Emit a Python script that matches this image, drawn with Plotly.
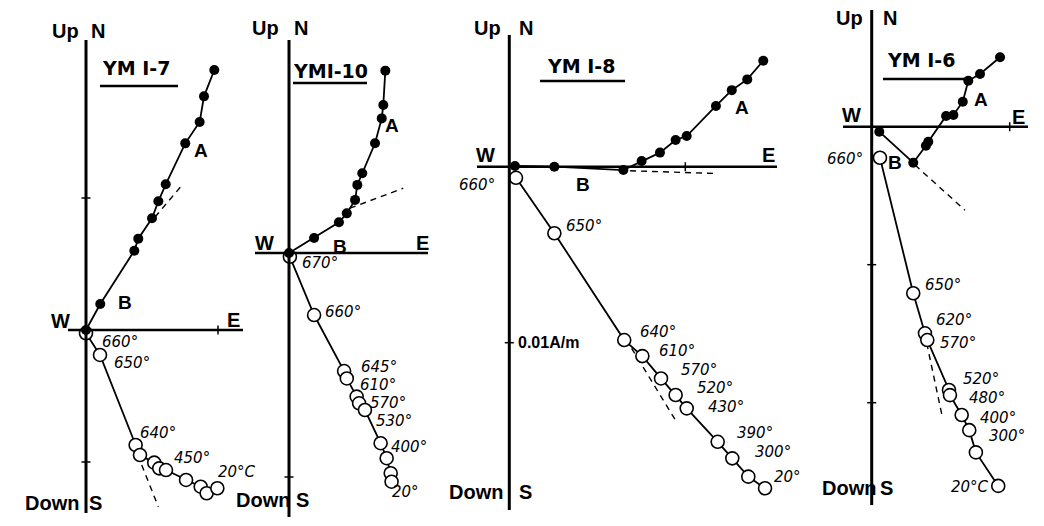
import plotly.graph_objects as go

W, H = 1044, 526

# ---------------- data (units = one tick interval of each diagram) ----------------
# YM1-7
ym17_fill_e = [0.0, 0.108, 0.366, 0.396, 0.500, 0.548, 0.604, 0.752, 0.861, 0.894, 0.972]
ym17_fill_n = [0.0, 0.197, 0.601, 0.692, 0.846, 0.975, 1.104, 1.414, 1.576, 1.770, 1.970]
ym17_open_e = [0.0, 0.106, 0.376, 0.409, 0.517, 0.555, 0.606, 0.758, 0.869, 0.914, 0.995]
ym17_open_down = [0.025, 0.189, 0.871, 0.947, 1.005, 1.048, 1.061, 1.136, 1.187, 1.237, 1.199]
ym17_fitA_e = [0.523, 0.735]
ym17_fitA_n = [0.856, 1.106]
ym17_fitB_e = [0.422, 0.548]
ym17_fitB_down = [1.023, 1.339]
ym17_temps = ["660°", "650°", "640°", "450°", "20°C"]
ym17_temp_idx = [0, 1, 2, 6, 10]

# YM1-10
ym110_fill_e = [0.0, 0.112, 0.223, 0.258, 0.295, 0.305, 0.327, 0.384, 0.414, 0.421, 0.430]
ym110_fill_n = [0.0, 0.067, 0.137, 0.177, 0.237, 0.304, 0.356, 0.490, 0.601, 0.661, 0.814]
ym110_open_e = [0.004, 0.112, 0.246, 0.258, 0.302, 0.313, 0.339, 0.409, 0.436, 0.454, 0.458]
ym110_open_down = [0.017, 0.277, 0.527, 0.560, 0.641, 0.671, 0.701, 0.849, 0.916, 0.983, 1.021]
ym110_fitA_e = [0.272, 0.510]
ym110_fitA_n = [0.200, 0.289]
ym110_temps = ["670°", "660°", "645°", "610°", "570°", "530°", "400°", "20°"]
ym110_temp_idx = [0, 1, 2, 4, 5, 6, 7, 10]

# YM1-8
ym18_fill_e = [0.032, 0.256, 0.648, 0.752, 0.856, 0.945, 1.008, 1.174, 1.264, 1.352, 1.443]
ym18_fill_n = [0.004, 0.0, -0.019, 0.032, 0.080, 0.152, 0.174, 0.345, 0.435, 0.496, 0.602]
ym18_open_e = [0.038, 0.256, 0.653, 0.756, 0.862, 0.945, 1.008, 1.184, 1.267, 1.358, 1.453]
ym18_open_down = [0.063, 0.378, 0.985, 1.076, 1.203, 1.297, 1.373, 1.563, 1.657, 1.761, 1.827]
ym18_fitA_e = [0.686, 1.159]
ym18_fitA_n = [-0.023, -0.038]
ym18_fitB_e = [0.695, 0.941]
ym18_fitB_down = [1.032, 1.435]
ym18_temps = ["660°", "650°", "640°", "610°", "570°", "520°", "430°", "390°", "300°", "20°"]
ym18_temp_idx = [0, 1, 2, 3, 4, 5, 6, 7, 8, 10]

# YM1-6
ym16_fill_e = [0.055, 0.301, 0.393, 0.410, 0.539, 0.592, 0.660, 0.700, 0.785, 0.930]
ym16_fill_n = [-0.036, -0.261, -0.138, -0.109, 0.078, 0.085, 0.181, 0.333, 0.382, 0.503]
ym16_open_e = [0.060, 0.301, 0.386, 0.403, 0.560, 0.567, 0.652, 0.707, 0.755, 0.917]
ym16_open_down = [0.225, 1.207, 1.497, 1.546, 1.908, 1.945, 2.089, 2.199, 2.360, 2.603]
ym16_fitA_e = [0.314, 0.676]
ym16_fitA_n = [-0.278, -0.605]
ym16_fitB_e = [0.399, 0.514]
ym16_fitB_down = [1.570, 2.113]
ym16_temps = ["660°", "650°", "620°", "570°", "520°", "480°", "400°", "300°", "20°C"]
ym16_temp_idx = [0, 1, 2, 3, 4, 5, 6, 7, 9]

# ---------------- layout of each diagram (pixels) ----------------
panels = [
    dict(title="YM I-7", ox=86, oy=330, s=132, west=68, east=243, top=40, bottom=513,
         xt=[1], yt=[1, -1],
         fe=ym17_fill_e, fn=ym17_fill_n, oe=ym17_open_e, od=ym17_open_down,
         fa=(ym17_fitA_e, ym17_fitA_n), fb=(ym17_fitB_e, ym17_fitB_down),
         temps=ym17_temps, tidx=ym17_temp_idx,
         toff=[(34, 9), (32, 8), (22, -12), (26, -12), (20, -16)],
         lab=dict(W=(60, 321), E=(233, 320), Up=(65, 31), N=(98, 31), Down=(52, 503), S=(95, 503),
                  A=(201, 151), B=(125, 302)),
         tpos=(136, 68), ul=(100, 178, 86)),
    dict(title="YMI-10", ox=289, oy=253, s=224, west=255, east=428, top=40, bottom=517,
         xt=[], yt=[-1],
         fe=ym110_fill_e, fn=ym110_fill_n, oe=ym110_open_e, od=ym110_open_down,
         fa=(ym110_fitA_e, ym110_fitA_n), fb=None,
         temps=ym110_temps, tidx=ym110_temp_idx,
         toff=[(30, 6), (29, -3), (35, -4), (21, -12), (29, 0), (29, 11), (28, 4), (14, 10)],
         lab=dict(W=(264, 243), E=(422, 243), Up=(265, 28), N=(301, 28), Down=(263, 500), S=(302, 500),
                  A=(392, 126), B=(340, 247)),
         tpos=(330, 71), ul=(293, 367, 83)),
    dict(title="YM I-8", ox=509.3, oy=166.7, s=176, west=477, east=777, top=35, bottom=510,
         xt=[1], yt=[-1],
         fe=ym18_fill_e, fn=ym18_fill_n, oe=ym18_open_e, od=ym18_open_down,
         fa=(ym18_fitA_e, ym18_fitA_n), fb=(ym18_fitB_e, ym18_fitB_down),
         temps=ym18_temps, tidx=ym18_temp_idx,
         toff=[(-39, 7), (30, -7), (34, -8), (35, -5), (38, -8), (39, -7), (39, -1), (37, -9), (41, -6), (22, -11)],
         lab=dict(W=(485, 155), E=(768, 155), Up=(487, 28), N=(526, 28), Down=(476, 492), S=(525, 492),
                  A=(742, 107), B=(583, 185)),
         tpos=(581, 66), ul=(540, 625, 81)),
    dict(title="YM I-6", ox=871.7, oy=126.7, s=138, west=843, east=1028, top=10, bottom=505,
         xt=[1], yt=[-1, -2],
         fe=ym16_fill_e, fn=ym16_fill_n, oe=ym16_open_e, od=ym16_open_down,
         fa=(ym16_fitA_e, ym16_fitA_n), fb=(ym16_fitB_e, ym16_fitB_down),
         temps=ym16_temps, tidx=ym16_temp_idx,
         toff=[(-35, 1), (30, -8), (29, -13), (31, 3), (32, -11), (37, 3), (36, 3), (38, 6), (-28, 1)],
         lab=dict(W=(851, 115), E=(1018, 117), Up=(849, 18), N=(890, 18), Down=(849, 488), S=(886, 488),
                  A=(981, 99), B=(895, 163)),
         tpos=(921, 60), ul=(883, 967, 79)),
]

fig = go.Figure()
shapes = []
annotations = []
LBL_FONT = dict(family="Liberation Sans, Arial, sans-serif", size=20, color="black")
TMP_FONT = dict(family="DejaVu Sans, sans-serif", size=15, color="black")

for i, p in enumerate(panels):
    k = "" if i == 0 else str(i + 1)
    xr, yr = "x" + k, "y" + k
    s, ox, oy = p["s"], p["ox"], p["oy"]
    xrange_ = [-ox / s, (W - ox) / s]
    yrange_ = [-(H - oy) / s, oy / s]
    xa = dict(range=xrange_, domain=[0, 1], visible=False, fixedrange=True, anchor=yr)
    ya = dict(range=yrange_, domain=[0, 1], visible=False, fixedrange=True, anchor=xr)
    if i > 0:
        xa["overlaying"] = "x"
        ya["overlaying"] = "y"
    fig.layout["xaxis" + k] = xa
    fig.layout["yaxis" + k] = ya

    # axes of the diagram
    west, east = (p["west"] - ox) / s, (p["east"] - ox) / s
    top, bottom = (oy - p["top"]) / s, (oy - p["bottom"]) / s
    shapes.append(dict(type="line", xref=xr, yref=yr, x0=west, x1=east, y0=0, y1=0,
                       line=dict(color="black", width=2.5)))
    shapes.append(dict(type="line", xref=xr, yref=yr, x0=0, x1=0, y0=bottom, y1=top,
                       line=dict(color="black", width=3)))
    t = 4.5 / s
    for xv in p["xt"]:
        shapes.append(dict(type="line", xref=xr, yref=yr, x0=xv, x1=xv, y0=-t, y1=t,
                           line=dict(color="black", width=1.5)))
    for yv in p["yt"]:
        shapes.append(dict(type="line", xref=xr, yref=yr, x0=-t, x1=t, y0=yv, y1=yv,
                           line=dict(color="black", width=1.5)))

    # fit (dashed) lines
    fa = p["fa"]
    fig.add_trace(go.Scatter(x=fa[0], y=fa[1], mode="lines", xaxis=xr, yaxis=yr,
                             line=dict(color="black", width=1.4, dash="6px,5px"), showlegend=False))
    if p["fb"] is not None:
        fb = p["fb"]
        fig.add_trace(go.Scatter(x=fb[0], y=[-v for v in fb[1]], mode="lines", xaxis=xr, yaxis=yr,
                                 line=dict(color="black", width=1.4, dash="6px,5px"), showlegend=False))

    # vertical projection (open circles)
    od_neg = [-v for v in p["od"]]
    fig.add_trace(go.Scatter(x=p["oe"], y=od_neg, mode="lines+markers", xaxis=xr, yaxis=yr,
                             line=dict(color="black", width=1.8),
                             marker=dict(symbol="circle", size=13, color="white",
                                         line=dict(color="black", width=1.6)),
                             showlegend=False))
    # horizontal projection (filled)
    fig.add_trace(go.Scatter(x=p["fe"], y=p["fn"], mode="lines+markers", xaxis=xr, yaxis=yr,
                             line=dict(color="black", width=1.8),
                             marker=dict(symbol="circle", size=10, color="black"),
                             showlegend=False))

    # temperature labels
    for lbl, idx, (dx, dy) in zip(p["temps"], p["tidx"], p["toff"]):
        annotations.append(dict(x=p["oe"][idx], y=od_neg[idx], xref=xr, yref=yr,
                                text="<i>" + lbl + "</i>", showarrow=False,
                                xanchor="center", yanchor="middle", borderpad=0,
                                xshift=dx, yshift=-dy, font=TMP_FONT))

    # axis / component letters
    for txt, (px, py) in p["lab"].items():
        f = dict(LBL_FONT)
        if txt in ("A", "B"):
            f["size"] = 19
        annotations.append(dict(x=px / W, y=1 - py / H, xref="paper", yref="paper",
                                xanchor="center", yanchor="middle",
                                text="<b>" + txt + "</b>", showarrow=False, font=f))

    # title and underline
    tx, ty = p["tpos"]
    annotations.append(dict(x=tx / W, y=1 - ty / H, xref="paper", yref="paper",
                            xanchor="center", yanchor="middle",
                            text="<b>" + p["title"] + "</b>", showarrow=False,
                            font=dict(family="DejaVu Sans, sans-serif", size=19, color="black")))
    u0, u1, uy = p["ul"]
    shapes.append(dict(type="line", xref="paper", yref="paper", x0=u0 / W, x1=u1 / W,
                       y0=1 - uy / H, y1=1 - uy / H, line=dict(color="black", width=2.5)))

# scale label on YM1-8
annotations.append(dict(x=0.0, y=-1.0, xref="x3", yref="y3", text="<b>0.01A/m</b>",
                        showarrow=False, xanchor="left", yanchor="middle", xshift=7,
                        font=dict(family="Liberation Sans, Arial, sans-serif", size=16, color="black")))

fig.update_layout(width=W, height=H, autosize=False,
                  margin=dict(l=0, r=0, t=0, b=0),
                  paper_bgcolor="white", plot_bgcolor="rgba(0,0,0,0)",
                  shapes=shapes, annotations=annotations, showlegend=False)

fig.write_html("out.html", config={"displayModeBar": False},
               post_script="document.body.style.margin='0';document.body.style.padding='0';")
